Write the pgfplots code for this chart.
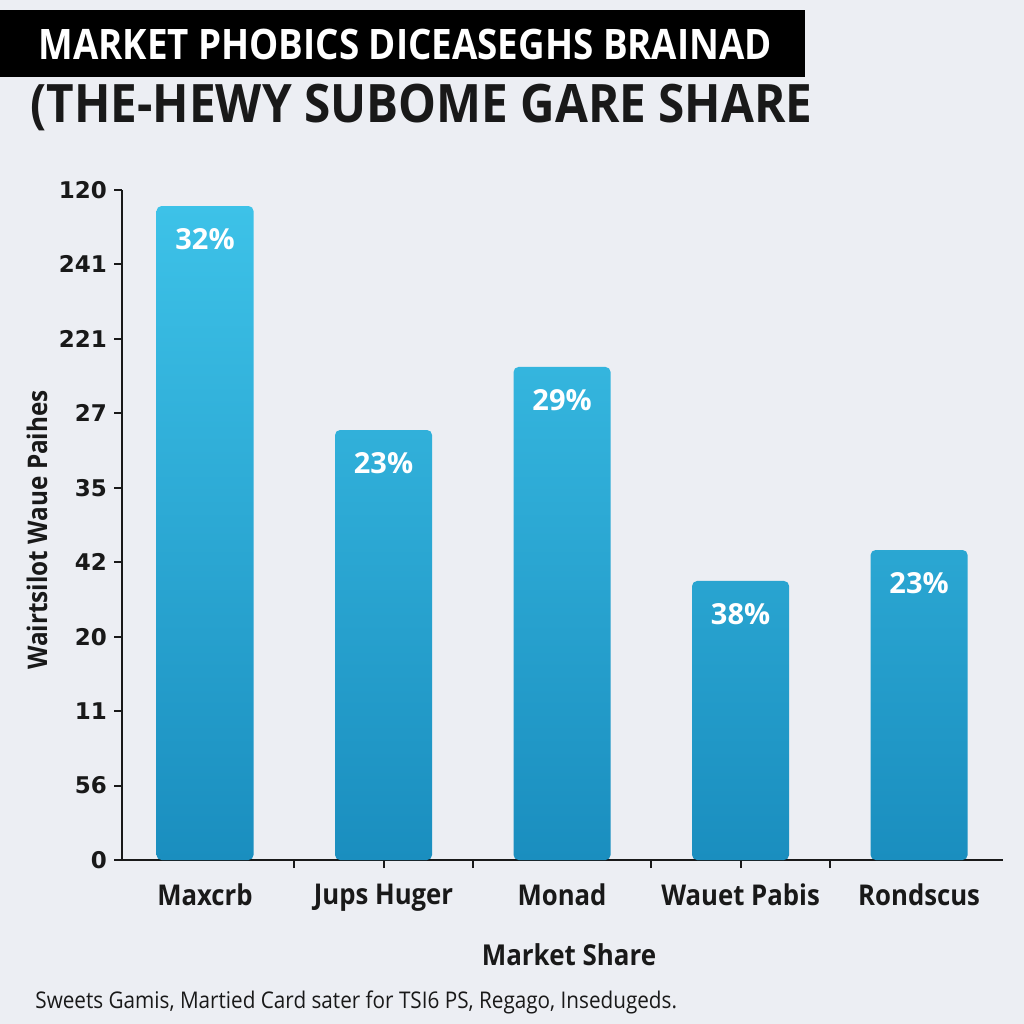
\documentclass[border=0pt]{standalone}
\usepackage{pgfplots}
\pgfplotsset{compat=1.18}
\usepackage{fontspec}
\setmainfont{Open Sans}
\newfontfamily\condA[FakeStretch=0.875]{Open Sans}
\newfontfamily\condB[FakeStretch=0.9]{Open Sans}
\newfontfamily\condC[FakeStretch=0.9]{Open Sans}
\newfontfamily\dvs{DejaVu Sans}
\definecolor{bg}{HTML}{ECEEF3}
\definecolor{bartop}{HTML}{3DC2E8}
\definecolor{barbot}{HTML}{1A8EBF}
\begin{document}
\begin{tikzpicture}[x=0.5pt,y=0.5pt]
\fill[bg] (0,0) rectangle (1024,1024);
\fill[black] (0,947) rectangle (805,1014);
\node[anchor=west, text=white, inner sep=0, font=\condA\bfseries\fontsize{21}{24}\selectfont] at (38,980) {MARKET PHOBICS DICEASEGHS BRAINAD};
\node[anchor=west, text=black!90, inner sep=0, font=\condB\bfseries\fontsize{26.5}{30}\selectfont] at (30,917) {(THE-HEWY SUBOME GARE SHARE};
\begin{axis}[
  at={(61pt,82pt)}, anchor=south west,
  scale only axis, width=440.5pt, height=335pt,
  xmin=-0.465, xmax=4.47, ymin=0, ymax=9,
  axis x line*=bottom, axis y line*=left,
  axis line style={line width=1.3pt, -, black!90},
  xtick={0.5,1,1.5,2.5,3,3.5}, xticklabels={},
  extra x ticks={0,1,2,3,4},
  extra x tick labels={Maxcrb,Jups Huger,Monad,Wauet Pabis,Rondscus},
  extra x tick style={major tick length=0pt, tick style={draw=none},
    xticklabel style={yshift=-8.5pt}},
  xticklabel style={font=\condC\bfseries\fontsize{14.3}{16}\selectfont, text=black!90},
  ytick={0,...,9}, yticklabels={0,56,11,20,42,35,27,221,241,120},
  yticklabel style={font=\dvs\bfseries\fontsize{11.5}{13}\selectfont, text=black!90},
  tick align=outside, major tick length=4pt,
  tick style={line width=1pt, black!90},
  clip=false,
]
\addplot[ybar, bar width=48.5pt, draw=none, top color=bartop, bottom color=barbot,
  rounded corners=2.5pt,
  point meta=explicit symbolic, nodes near coords,
  every node near coord/.append style={anchor=north, yshift=-11pt, inner sep=0pt,
    text=white, font=\bfseries\fontsize{14.5}{16}\selectfont}]
coordinates {(0,8.785) [32\%] (1,5.776) [23\%] (2,6.623) [29\%] (3,3.748) [38\%] (4,4.164) [23\%]};
\end{axis}
\node[rotate=90, inner sep=0, text=black!90, font=\condC\bfseries\fontsize{13.5}{15}\selectfont] at (37,494) {Wairtsilot Waue Paihes};
\node[inner sep=0, text=black!90, font=\condC\bfseries\fontsize{14.4}{16}\selectfont] at (569,69) {Market Share};
\node[anchor=west, inner sep=0, text=black!90, font=\condC\fontsize{11.5}{13}\selectfont] at (35,22) {Sweets Gamis, Martied Card sater for TSI6 PS, Regago, Insedugeds.};
\end{tikzpicture}
\end{document}
